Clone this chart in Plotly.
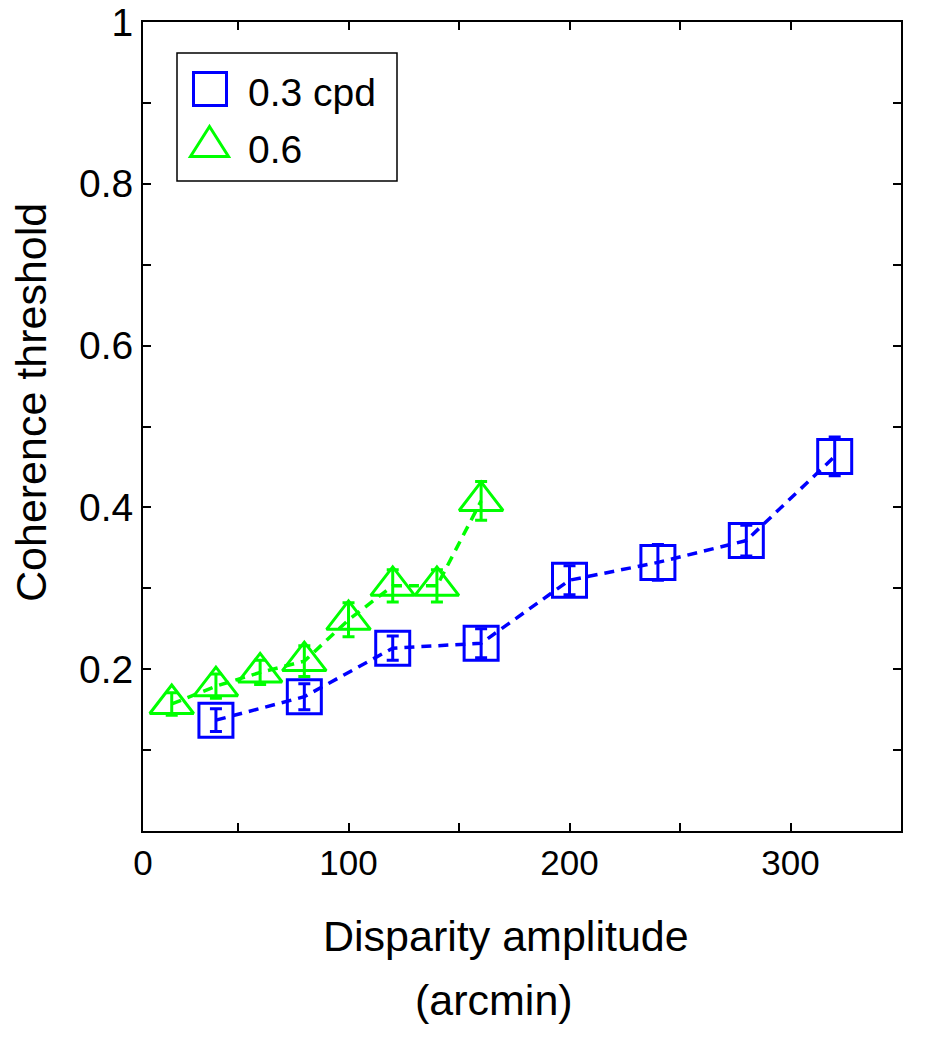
import plotly.graph_objects as go

# ---------------- data ----------------
blue_name = "0.3 cpd"
blue_x = [40, 80, 120, 160, 200, 240, 280, 320]
blue_y = [0.137, 0.166, 0.226, 0.232, 0.310, 0.332, 0.359, 0.463]
blue_err = [0.014, 0.016, 0.015, 0.018, 0.018, 0.022, 0.019, 0.024]

green_name = "0.6"
green_x = [20, 40, 60, 80, 100, 120, 140, 160]
green_y = [0.157, 0.179, 0.196, 0.210, 0.261, 0.303, 0.303, 0.408]
green_err = [0.014, 0.015, 0.015, 0.019, 0.021, 0.020, 0.020, 0.024]

x_tickvals = [7, 50, 100, 150, 200, 250, 300]
x_ticktext = ["0", "", "100", "", "200", "", "300"]
y_tickvals = [0.1, 0.2, 0.3, 0.4, 0.5, 0.6, 0.7, 0.8, 0.9, 1.0]
y_ticktext = ["", "0.2", "", "0.4", "", "0.6", "", "0.8", "", "1"]

x_title = "Disparity amplitude"
x_unit = "(arcmin)"
y_title = "Coherence threshold"

BLUE = "#0000FF"
GREEN = "#00FF00"
FONT = "Liberation Sans, Arial, Helvetica, sans-serif"

W, H = 927, 1050
L, R, T, B = 143, 26, 22, 219
PW, PH = W - L - R, H - T - B


def px(xp):
    return (xp - L) / PW


def py(yp):
    return (H - B - yp) / PH


fig = go.Figure()

for xs, ys, es, col, sym, size in [
    (green_x, green_y, green_err, GREEN, "triangle-up-open", 38),
    (blue_x, blue_y, blue_err, BLUE, "square-open", 34),
]:
    fig.add_trace(go.Scatter(
        x=xs, y=ys, mode="lines",
        line=dict(color=col, width=3.5, dash="10px,7px"),
        showlegend=False, hoverinfo="skip",
    ))
    fig.add_trace(go.Scatter(
        x=xs, y=ys, mode="markers",
        marker=dict(symbol=sym, size=size, color=col,
                    line=dict(color=col, width=3)),
        error_y=dict(type="data", array=es, color=col, thickness=3, width=6),
        showlegend=False,
    ))

axis_common = dict(
    showline=True, linecolor="black", linewidth=2, mirror="ticks",
    ticks="inside", ticklen=8, tickwidth=1.5, tickcolor="black",
    showgrid=False, zeroline=False, automargin=False,
    tickfont=dict(family=FONT, size=35, color="black"),
)

fig.update_xaxes(range=[7, 350], tickmode="array", tickvals=x_tickvals,
                 ticktext=x_ticktext, **axis_common)
fig.update_yaxes(range=[0, 1], tickmode="array", tickvals=y_tickvals,
                 ticktext=y_ticktext, **axis_common)
fig.update_yaxes(tickfont=dict(size=39))

annotations = [
    dict(text=x_title, x=px(506), y=py(936), xref="paper", yref="paper",
         xanchor="center", yanchor="middle", showarrow=False,
         font=dict(family=FONT, size=43, color="black")),
    dict(text=x_unit, x=px(494), y=py(1000), xref="paper", yref="paper",
         xanchor="center", yanchor="middle", showarrow=False,
         font=dict(family=FONT, size=43, color="black")),
    dict(text=y_title, x=px(31), y=py(403), xref="paper", yref="paper",
         xanchor="center", yanchor="middle", textangle=-90, showarrow=False,
         font=dict(family=FONT, size=43, color="black")),
    dict(text=blue_name, x=px(246), y=py(92), xref="paper", yref="paper",
         xanchor="left", yanchor="middle", showarrow=False,
         font=dict(family=FONT, size=39, color="black")),
    dict(text=green_name, x=px(246), y=py(149), xref="paper", yref="paper",
         xanchor="left", yanchor="middle", showarrow=False,
         font=dict(family=FONT, size=39, color="black")),
]

shapes = [
    dict(type="rect", xref="paper", yref="paper",
         x0=px(177), x1=px(397), y0=py(181), y1=py(53),
         line=dict(color="black", width=1.5), fillcolor="white", layer="above"),
    dict(type="rect", xref="paper", yref="paper",
         x0=px(193.5), x1=px(226.5), y0=py(105.5), y1=py(72.5),
         line=dict(color=BLUE, width=3), layer="above"),
    dict(type="path", xref="paper", yref="paper",
         path="M {} {} L {} {} L {} {} Z".format(
             px(190.5), py(156.5), px(228.5), py(156.5), px(209.5), py(126.5)),
         line=dict(color=GREEN, width=3), layer="above"),
]

fig.update_layout(
    width=W, height=H,
    margin=dict(l=L, r=R, t=T, b=B, pad=0, autoexpand=False),
    paper_bgcolor="white", plot_bgcolor="white",
    showlegend=False,
    annotations=annotations,
    shapes=shapes,
    font=dict(family=FONT, color="black"),
)

fig.write_html("out.html", config={"displayModeBar": False},
               post_script="document.body.style.margin='0px';")
